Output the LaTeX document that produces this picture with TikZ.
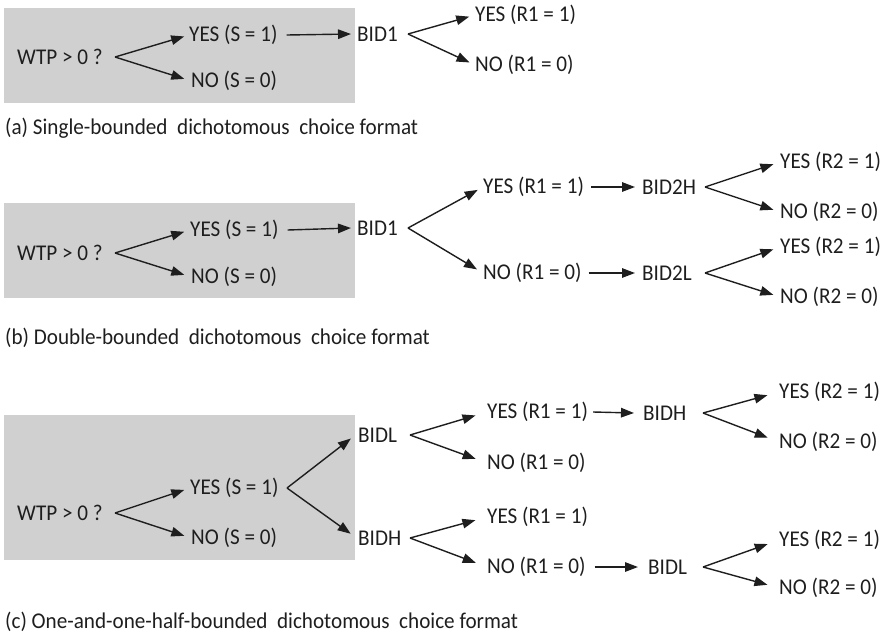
\documentclass[tikz,border=0pt]{standalone}
\usepackage{fontspec}
\setmainfont{Carlito}[FakeStretch=0.94]
\usetikzlibrary{arrows.meta}
\definecolor{boxgray}{RGB}{208,208,208}
\definecolor{ink}{RGB}{30,30,30}
\begin{document}
\begin{tikzpicture}[x=1pt,y=-1pt,
  lbl/.style={anchor=west,inner sep=0pt,text=ink,font=\fontsize{22.5}{25}\selectfont},
  captext/.style={anchor=west,inner sep=0pt,text=ink,font=\fontsize{22.5}{25}\selectfont},
  arr/.style={draw=ink,line width=1.4pt,-{Triangle[length=13pt,width=9.5pt]}},
  bg/.style={fill=boxgray,draw=none}]
\useasboundingbox (0,0) rectangle (887,638);
% ---------------- panel (a)
\fill[bg] (4,8) rectangle (355,103);
\node[lbl] (aw) at (17,57) {WTP > 0 ?};
\node[lbl] (ay) at (189,35) {YES (S = 1)};
\node[lbl] (an) at (191,81) {NO (S = 0)};
\node[lbl] (ab) at (357,34) {BID1};
\node[lbl] (ay1) at (475,15) {YES (R1 = 1)};
\node[lbl] (an1) at (475,65) {NO (R1 = 0)};
\coordinate (av) at (115,57);
\coordinate (abv) at (408,34);
\draw[arr,shorten >=5pt] (av) -- (ay.west);
\draw[arr,shorten >=7pt] (av) -- (an.west);
\draw[arr] ([xshift=9]ay.east) -- ([xshift=-6]ab.west);
\draw[arr,shorten >=6pt] (abv) -- (ay1.west);
\draw[arr,shorten >=6pt] (abv) -- (an1.west);
\node[captext] (capa) at (5,128) {(a) Single-bounded\ \ dichotomous\ \ choice format};
% ---------------- panel (b)
\fill[bg] (4,203) rectangle (355,298);
\node[lbl] (bw) at (17,253) {WTP > 0 ?};
\node[lbl] (by) at (190,230) {YES (S = 1)};
\node[lbl] (bn) at (191,277) {NO (S = 0)};
\node[lbl] (bb) at (357,228) {BID1};
\node[lbl] (by1) at (483,187) {YES (R1 = 1)};
\node[lbl] (bn1) at (483,273) {NO (R1 = 0)};
\node[lbl] (bh) at (642,187) {BID2H};
\node[lbl] (bl) at (642,273) {BID2L};
\node[lbl] (bhy) at (780,162) {YES (R2 = 1)};
\node[lbl] (bhn) at (780,212) {NO (R2 = 0)};
\node[lbl] (bly) at (780,247) {YES (R2 = 1)};
\node[lbl] (bln) at (780,297) {NO (R2 = 0)};
\coordinate (bv) at (115,253);
\coordinate (bbv) at (408,228);
\coordinate (bhv) at (705,187);
\coordinate (blv) at (705,273);
\draw[arr,shorten >=6pt] (bv) -- (by.west);
\draw[arr,shorten >=7pt] (bv) -- (bn.west);
\draw[arr] ([xshift=9]by.east) -- ([xshift=-6]bb.west);
\draw[arr,shorten >=6pt] (bbv) -- (by1.west);
\draw[arr,shorten >=7pt] (bbv) -- (bn1.west);
\draw[arr] ([xshift=7]by1.east) -- ([xshift=-7]bh.west);
\draw[arr] ([xshift=7]bn1.east) -- ([xshift=-7]bl.west);
\draw[arr,shorten >=7pt] (bhv) -- (bhy.west);
\draw[arr,shorten >=7pt] (bhv) -- (bhn.west);
\draw[arr,shorten >=7pt] (blv) -- (bly.west);
\draw[arr,shorten >=7pt] (blv) -- (bln.west);
\node[captext] (capb) at (5,338) {(b) Double-bounded\ \ dichotomous\ \ choice format};
% ---------------- panel (c)
\fill[bg] (4,415) rectangle (355,560);
\node[lbl] (cw) at (17,513) {WTP > 0 ?};
\node[lbl] (cy) at (190,488) {YES (S = 1)};
\node[lbl] (cn) at (191,538) {NO (S = 0)};
\node[lbl] (cbl) at (358,435) {BIDL};
\node[lbl] (cbh) at (358,538) {BIDH};
\node[lbl] (cly) at (487,412) {YES (R1 = 1)};
\node[lbl] (cln) at (487,463) {NO (R1 = 0)};
\node[lbl] (chy) at (487,517) {YES (R1 = 1)};
\node[lbl] (chn) at (487,567) {NO (R1 = 0)};
\node[lbl] (cbh2) at (643,413) {BIDH};
\node[lbl] (cbl2) at (648,567) {BIDL};
\node[lbl] (c2y) at (779,392) {YES (R2 = 1)};
\node[lbl] (c2n) at (779,442) {NO (R2 = 0)};
\node[lbl] (c3y) at (779,540) {YES (R2 = 1)};
\node[lbl] (c3n) at (779,588) {NO (R2 = 0)};
\coordinate (cv) at (115,513);
\coordinate (cyv) at (287,488);
\coordinate (clv) at (410,435);
\coordinate (chv) at (410,538);
\coordinate (c2v) at (703,413);
\coordinate (c3v) at (703,567);
\draw[arr,shorten >=6pt] (cv) -- (cy.west);
\draw[arr,shorten >=7pt] (cv) -- (cn.west);
\draw[arr,shorten >=9pt] (cyv) -- ([yshift=2]cbl.west);
\draw[arr,shorten >=9pt] (cyv) -- ([yshift=-1]cbh.west);
\draw[arr,shorten >=12pt] (clv) -- (cly.west);
\draw[arr,shorten >=12pt] (clv) -- (cln.west);
\draw[arr,shorten >=12pt] (chv) -- (chy.west);
\draw[arr,shorten >=12pt] (chv) -- (chn.west);
\draw[arr] ([xshift=5]cly.east) -- ([xshift=-9]cbh2.west);
\draw[arr] ([xshift=9]chn.east) -- ([xshift=-10]cbl2.west);
\draw[arr,shorten >=12pt] (c2v) -- (c2y.west);
\draw[arr,shorten >=12pt] (c2v) -- (c2n.west);
\draw[arr,shorten >=12pt] (c3v) -- (c3y.west);
\draw[arr,shorten >=12pt] (c3v) -- (c3n.west);
\node[captext] (capc) at (5,622) {(c) One-and-one-half-bounded\ \ dichotomous\ \ choice format};
\end{tikzpicture}
\end{document}
